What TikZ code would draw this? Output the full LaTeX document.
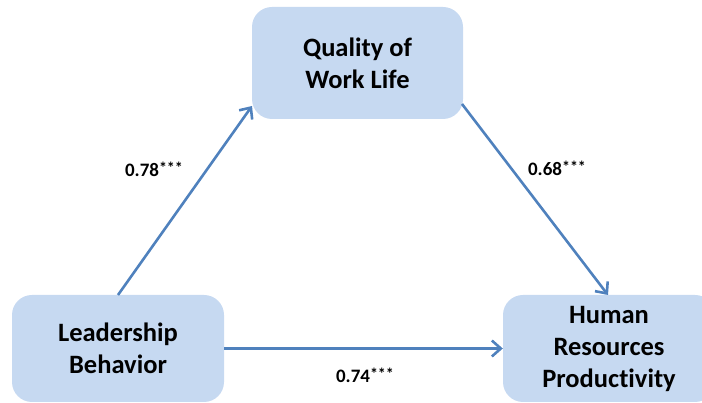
\documentclass[tikz,border=0pt]{standalone}
\usepackage{fontspec}
\setmainfont[Ligatures={NoCommon}]{Carlito}
\usetikzlibrary{arrows.meta}
\definecolor{boxfill}{HTML}{C6D9F1}
\definecolor{arrowblue}{HTML}{4F81BD}
\newcommand{\stars}{\raisebox{3pt}{\fontsize{16}{16}\selectfont***}}
\begin{document}
\begin{tikzpicture}[x=1pt,y=1pt,
  concept/.style={rectangle, rounded corners=20pt, fill=boxfill, draw=none,
    align=center, font=\fontsize{26.5}{32}\selectfont\bfseries, inner sep=0pt},
  link/.style={draw=arrowblue, line width=2.6pt,
    -{Straight Barb[length=9pt,width=16pt,line width=2.6pt]}},
  coef/.style={font=\fontsize{19}{22}\selectfont\bfseries}]
\useasboundingbox (0,0) rectangle (702,403);
\begin{scope}
\clip (0,0) rectangle (702,403);
% the three constructs
\node[concept, minimum width=211pt, minimum height=112pt] (qwl) at (357.5,340) {Quality of\\Work Life};
\node[concept, minimum width=212pt, minimum height=107pt] (lb) at (118,54.5) {Leadership\\Behavior};
\node[concept, minimum width=212pt, minimum height=107pt] (hrp) at (609,54.5) {Human\\Resources\\Productivity};
\end{scope}
% arrow end points on the box outlines
\coordinate (lbtop) at (118,108);
\coordinate (qwlin) at (252,297);
\coordinate (qwlout) at (462,299);
\coordinate (hrptop) at (608,108);
% paths with coefficients
\draw[link] (lbtop) -- (qwlin);
\draw[link] (qwlout) -- (hrptop);
\draw[link] (lb.east) -- (hrp.west);
\node[coef] (c1) at (154,234) {0.78\stars};
\node[coef] (c2) at (557,235) {0.68\stars};
\node[coef] (c3) at (365,28) {0.74\stars};
\end{tikzpicture}
\end{document}
